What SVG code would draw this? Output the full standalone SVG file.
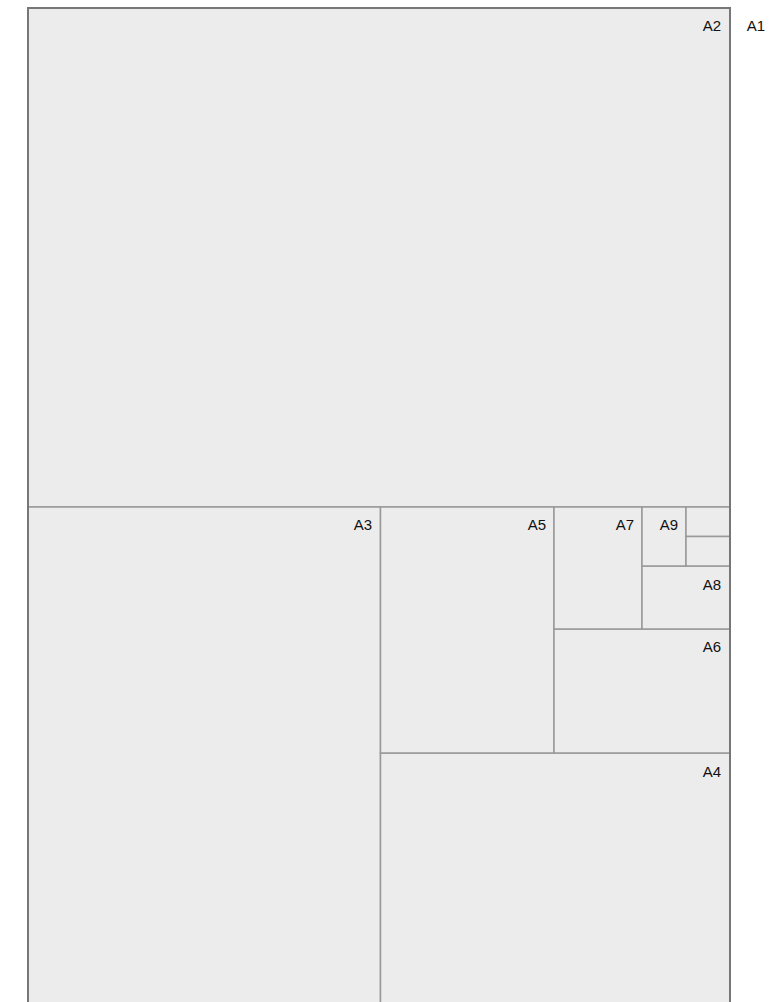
<svg xmlns="http://www.w3.org/2000/svg" width="779" height="1002" viewBox="0 0 779 1002">
<style>
.p{fill:#ececec;stroke:#999;stroke-width:1.5}
.o{fill:#ececec;stroke:#777;stroke-width:2}
.t{font-family:"Liberation Sans",Arial,sans-serif;font-size:15px;fill:#111;text-anchor:end}
</style>
<g id="A1"><rect class="o" x="28" y="8" width="702" height="1000"/><text class="t" x="765" y="31">A1</text></g>
<g id="A2"><rect class="p" x="28" y="8" width="702" height="499"/><text class="t" x="721" y="31">A2</text></g>
<g id="A3"><rect class="p" x="28" y="507" width="352.5" height="500"/><text class="t" x="372" y="530">A3</text></g>
<g id="A4"><rect class="p" x="380.5" y="753" width="349.5" height="254"/><text class="t" x="721" y="777">A4</text></g>
<g id="A5"><rect class="p" x="380.5" y="507" width="173.5" height="246"/><text class="t" x="546" y="530">A5</text></g>
<g id="A6"><rect class="p" x="554" y="629" width="176" height="124"/><text class="t" x="721" y="652">A6</text></g>
<g id="A7"><rect class="p" x="554" y="507" width="88" height="122"/><text class="t" x="634" y="530">A7</text></g>
<g id="A8"><rect class="p" x="642" y="566" width="88" height="63"/><text class="t" x="721" y="590">A8</text></g>
<g id="A9"><rect class="p" x="642" y="507" width="44" height="59"/><text class="t" x="678" y="530">A9</text></g>
<g id="A10"><rect class="p" x="686" y="507" width="44" height="29.5"/></g>
<g id="A11"><rect class="p" x="686" y="536.5" width="44" height="29.5"/></g>
<g id="connectors"></g>
<rect x="28" y="8" width="702" height="1000" fill="none" stroke="#777" stroke-width="2"/>
</svg>
